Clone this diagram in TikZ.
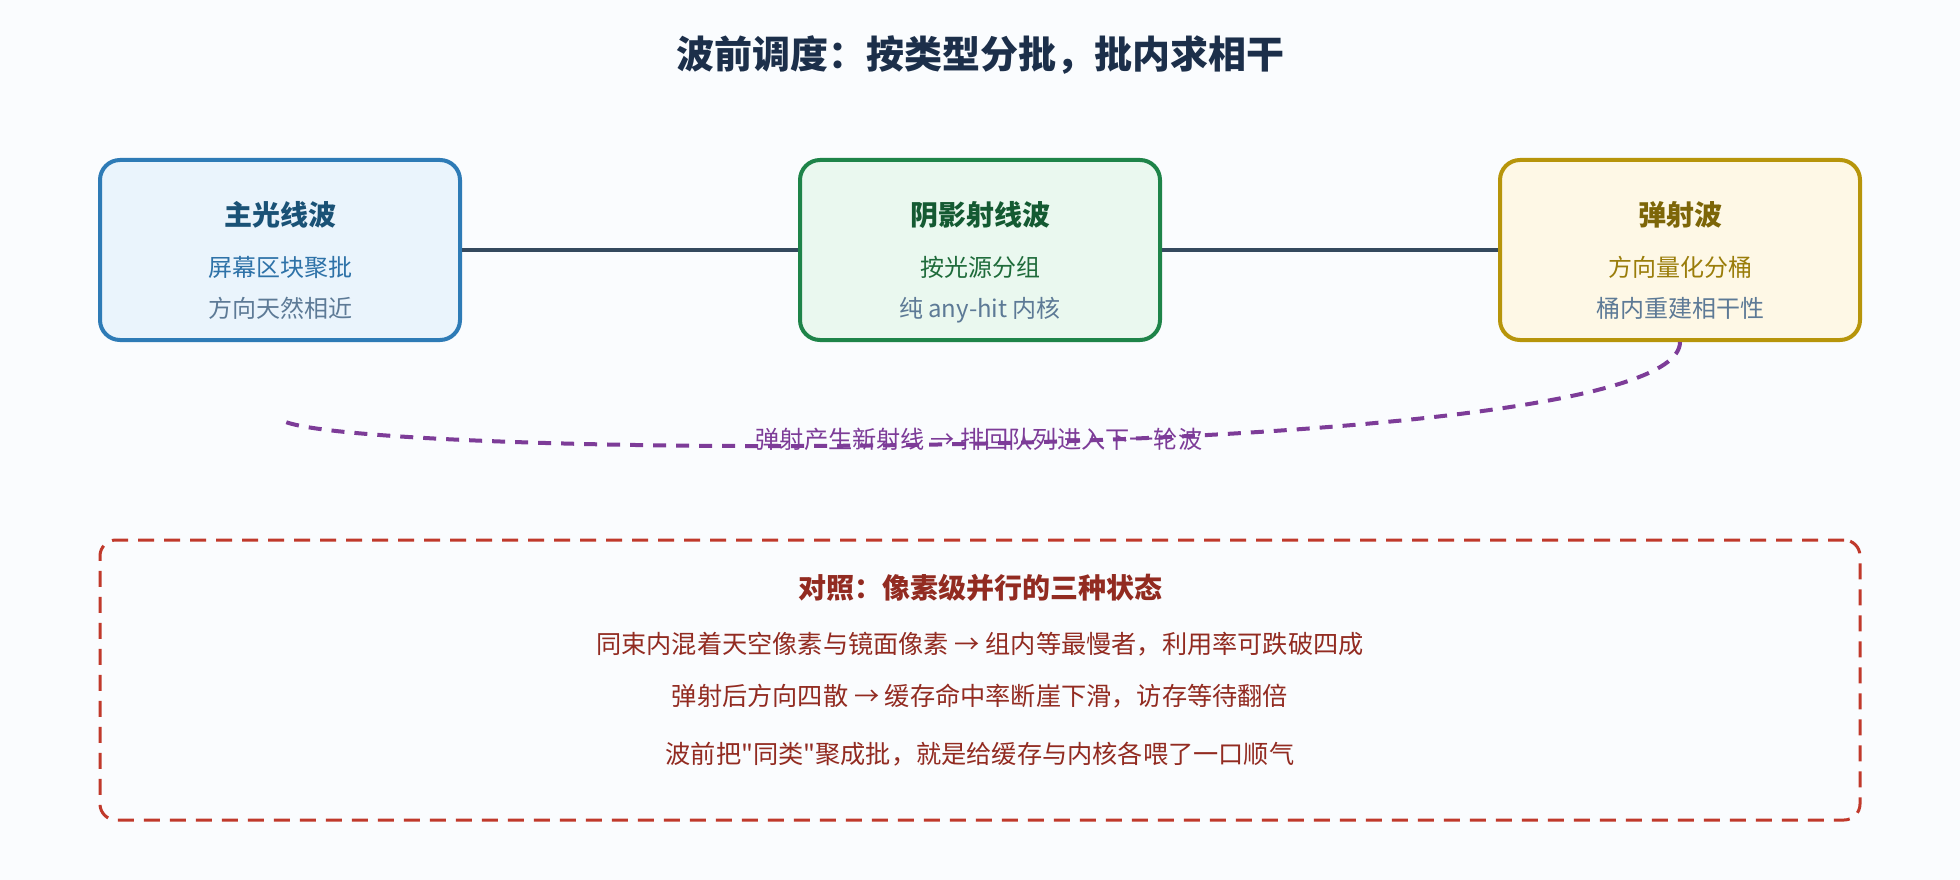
\documentclass[tikz,border=0pt]{standalone}
\usepackage{fontspec}
\setmainfont{Noto Sans CJK SC}[Ligatures=TeXOff]
\usetikzlibrary{positioning}

\definecolor{page-bg}{HTML}{FAFCFE}
\definecolor{head-ink}{HTML}{1C2F4A}
\definecolor{link-ink}{HTML}{34495E}
\definecolor{note-gray}{HTML}{5D7A96}
\definecolor{prim-line}{HTML}{2E7BB6}
\definecolor{prim-fill}{HTML}{EAF4FC}
\definecolor{prim-title}{HTML}{1A5276}
\definecolor{prim-text}{HTML}{2E72A8}
\definecolor{shad-line}{HTML}{1E8449}
\definecolor{shad-fill}{HTML}{EAF8EF}
\definecolor{shad-title}{HTML}{145A32}
\definecolor{shad-text}{HTML}{1E6B3A}
\definecolor{boun-line}{HTML}{B7950B}
\definecolor{boun-fill}{HTML}{FEF8E6}
\definecolor{boun-title}{HTML}{7D6608}
\definecolor{boun-text}{HTML}{9A7D0A}
\definecolor{loop-ink}{HTML}{7D3C98}
\definecolor{note-red}{HTML}{C0392B}
\definecolor{note-dark}{HTML}{922B21}

\newcommand{\wavebox}[5]{%
  \node[wave, draw=#1-line, fill=#1-fill] (#1) at (#2, 250) {};
  \node[wavetitle, text=#1-title] (#1-name) at (#2, 225.4) {#3};
  \node[wavetext, text=#1-text] (#1-one) at (#2, 276.4) {#4};
  \node[wavetext, text=note-gray] (#1-two) at (#2, 317.4) {#5}}

\begin{document}
\begin{tikzpicture}[x=1pt, y=-1pt,
    wave/.style={rectangle, rounded corners=20pt, line width=4pt,
      minimum width=360pt, minimum height=180pt, inner sep=0pt},
    wavetitle/.style={anchor=base, inner sep=0pt,
      font=\fontsize{28}{32}\selectfont\bfseries},
    wavetext/.style={anchor=base, inner sep=0pt,
      font=\fontsize{24}{28}\selectfont},
    link/.style={draw=link-ink, line width=4.5pt},
    loopline/.style={draw=loop-ink, line width=4pt,
      dash pattern=on 13pt off 10pt},
    contrast/.style={rectangle, draw=note-red, line width=3pt,
      dash pattern=on 16pt off 10pt, rounded corners=16pt,
      minimum width=1760pt, minimum height=280pt, inner sep=0pt},
    notetext/.style={anchor=base, inner sep=0pt, text=note-dark,
      font=\fontsize{25.2}{30}\selectfont}]
  \fill[page-bg] (0,0) rectangle (1960,880);
  \useasboundingbox (0,0) rectangle (1960,880);

  \node[anchor=base, inner sep=0pt, text=head-ink,
    font=\fontsize{38}{44}\selectfont\bfseries] (heading) at (980,69)
    {波前调度：按类型分批，批内求相干};

  \wavebox{prim}{280}{主光线波}{屏幕区块聚批}{方向天然相近};
  \wavebox{shad}{980}{阴影射线波}{按光源分组}{纯 any-hit 内核};
  \wavebox{boun}{1680}{弹射波}{方向量化分桶}{桶内重建相干性};

  \draw[link] (prim.east) -- (shad.west);
  \draw[link] (shad.east) -- (boun.west);

  % bounced rays go back to the queue
  \coordinate (requeue) at (279,417);
  \draw[loopline] (boun.south) .. controls (1680,470) and (280,460) .. (requeue);
  \node[anchor=base, inner sep=0pt, text=loop-ink,
    font=\fontsize{24.2}{30}\selectfont] (requeue-label) at (979,448)
    {弹射产生新射线 → 排回队列进入下一轮波};

  \node[contrast] (contrast) at (980,680) {};
  \node[anchor=base, inner sep=0pt, text=note-dark,
    font=\fontsize{28}{32}\selectfont\bfseries] (contrast-title) at (980,598.4)
    {对照：像素级并行的三种状态};
  \node[notetext] (contrast-one) at (980,653.4)
    {同束内混着天空像素与镜面像素 → 组内等最慢者，利用率可跌破四成};
  \node[notetext] (contrast-two) at (980,705.4)
    {弹射后方向四散 → 缓存命中率断崖下滑，访存等待翻倍};
  \node[notetext] (contrast-three) at (980,763)
    {波前把"同类"聚成批，就是给缓存与内核各喂了一口顺气};
\end{tikzpicture}
\end{document}
